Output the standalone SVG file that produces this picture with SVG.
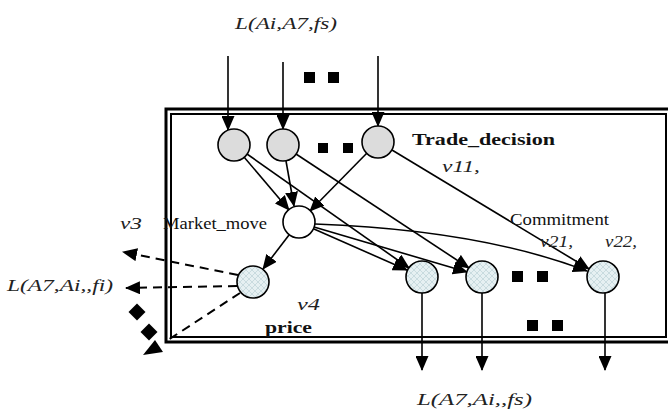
<svg xmlns="http://www.w3.org/2000/svg" width="668" height="411" viewBox="0 0 668 411">
<style>
.ln{stroke:#000;stroke-width:1.6;fill:none}
.dash{stroke:#000;stroke-width:2;fill:none;stroke-dasharray:9,6}
.nd{stroke:#000;stroke-width:1.6}
.gray{fill:#dcdcdc}
.white{fill:#fff}
.hatch{fill:url(#hp)}
.it{font-style:italic;font-size:17px;fill:#222}
.rg{font-size:16px;fill:#111}
.bd{font-weight:bold;font-size:17px;fill:#111}
.sq{fill:#000}
</style>
<defs>
<marker id="ah" markerUnits="userSpaceOnUse" markerWidth="15" markerHeight="13" refX="14" refY="6.5" orient="auto">
<path d="M0,0 L15,6.5 L0,13 Z" fill="#000"/>
</marker>
<pattern id="hp" patternUnits="userSpaceOnUse" width="6" height="6">
<rect width="6" height="6" fill="#e6f0f2"/>
<path d="M0,0 L6,6 M6,0 L0,6" stroke="#c2d6da" stroke-width="0.8"/>
</pattern>
</defs>
<rect width="668" height="411" fill="#fff"/>
<g id="frame">
<rect x="166" y="109" width="520" height="233" fill="none" stroke="#000" stroke-width="3"/>
<rect x="171" y="114" width="495" height="223" fill="none" stroke="#000" stroke-width="2"/>
</g>
<g id="connectors">
<line class="ln" x1="228" y1="56" x2="228" y2="130" marker-end="url(#ah)"/>
<line class="ln" x1="283" y1="62" x2="283" y2="129" marker-end="url(#ah)"/>
<line class="ln" x1="378" y1="56" x2="378" y2="126" marker-end="url(#ah)"/>
<line class="ln" x1="244" y1="157" x2="289" y2="210" marker-end="url(#ah)"/>
<line class="ln" x1="286" y1="161" x2="294" y2="206" marker-end="url(#ah)"/>
<line class="ln" x1="367" y1="153" x2="310" y2="211" marker-end="url(#ah)"/>
<line class="ln" x1="289" y1="235" x2="263" y2="269" marker-end="url(#ah)"/>
<line class="ln" x1="247" y1="154" x2="409" y2="268" marker-end="url(#ah)"/>
<line class="ln" x1="296" y1="154" x2="469" y2="268" marker-end="url(#ah)"/>
<line class="ln" x1="392" y1="150" x2="589" y2="269" marker-end="url(#ah)"/>
<line class="ln" x1="314" y1="229" x2="407" y2="270" marker-end="url(#ah)"/>
<line class="ln" x1="314" y1="227" x2="467" y2="272" marker-end="url(#ah)"/>
<path class="ln" d="M315,224 Q480,230 587,271" marker-end="url(#ah)"/>
<line class="ln" x1="422" y1="293" x2="422" y2="370" marker-end="url(#ah)"/>
<line class="ln" x1="482" y1="293" x2="482" y2="370" marker-end="url(#ah)"/>
<line class="ln" x1="605" y1="293" x2="605" y2="370" marker-end="url(#ah)"/>
<line class="dash" x1="238" y1="275" x2="123" y2="252" marker-end="url(#ah)"/>
<line class="dash" x1="237" y1="286" x2="126" y2="288" marker-end="url(#ah)"/>
<line class="dash" x1="240" y1="293" x2="168" y2="340"/>
<polygon points="155,340 143,355 163,352" fill="#000"/>
<rect class="sq" x="131" y="306" width="12" height="12" transform="rotate(45 137 312)"/>
<rect class="sq" x="143" y="326" width="12" height="12" transform="rotate(45 149 332)"/>
</g>
<g id="dots">
<rect class="sq" x="304" y="72" width="11" height="11"/>
<rect class="sq" x="328" y="72" width="11" height="11"/>
<rect class="sq" x="318" y="143" width="10" height="10"/>
<rect class="sq" x="343" y="143" width="10" height="10"/>
<rect class="sq" x="512" y="271" width="11" height="11"/>
<rect class="sq" x="537" y="271" width="11" height="11"/>
<rect class="sq" x="527" y="320" width="11" height="11"/>
<rect class="sq" x="552" y="320" width="11" height="11"/>
</g>
<g id="trade1"><circle class="nd gray" cx="234" cy="145" r="16"/></g>
<g id="trade2"><circle class="nd gray" cx="283" cy="145" r="16"/></g>
<g id="trade3"><circle class="nd gray" cx="378" cy="142" r="16"/></g>
<g id="market_move"><circle class="nd white" cx="299" cy="222" r="16"/></g>
<g id="price"><circle class="nd hatch" cx="253" cy="282" r="16"/></g>
<g id="commit1"><circle class="nd hatch" cx="422" cy="277" r="16"/></g>
<g id="commit2"><circle class="nd hatch" cx="482" cy="277" r="16"/></g>
<g id="commit3"><circle class="nd hatch" cx="603" cy="277" r="16"/></g>
<g id="labels" font-family="Liberation Serif, DejaVu Serif, serif">
<text class="it" x="235" y="29" textLength="102" lengthAdjust="spacingAndGlyphs">L(Ai,A7,fs)</text>
<text class="bd" x="412" y="145" textLength="143" lengthAdjust="spacingAndGlyphs">Trade_decision</text>
<text class="it" x="442" y="172" textLength="38" lengthAdjust="spacingAndGlyphs">v11,</text>
<text class="it" x="120" y="229" font-size="15" textLength="22" lengthAdjust="spacingAndGlyphs">v3</text>
<text class="rg" x="163" y="229" textLength="104" lengthAdjust="spacingAndGlyphs">Market_move</text>
<text class="it" x="7" y="291" textLength="106" lengthAdjust="spacingAndGlyphs">L(A7,Ai,,fi)</text>
<text class="it" x="297" y="310" font-size="15" textLength="23" lengthAdjust="spacingAndGlyphs">v4</text>
<text class="bd" x="265" y="333" font-size="16" textLength="47" lengthAdjust="spacingAndGlyphs">price</text>
<text class="rg" x="510" y="225" textLength="99" lengthAdjust="spacingAndGlyphs">Commitment</text>
<text class="it" x="540" y="247" font-size="16" textLength="33" lengthAdjust="spacingAndGlyphs">v21,</text>
<text class="it" x="605" y="247" font-size="16" textLength="32" lengthAdjust="spacingAndGlyphs">v22,</text>
<text class="it" x="417" y="405" textLength="115" lengthAdjust="spacingAndGlyphs">L(A7,Ai,,fs)</text>
</g>
</svg>
